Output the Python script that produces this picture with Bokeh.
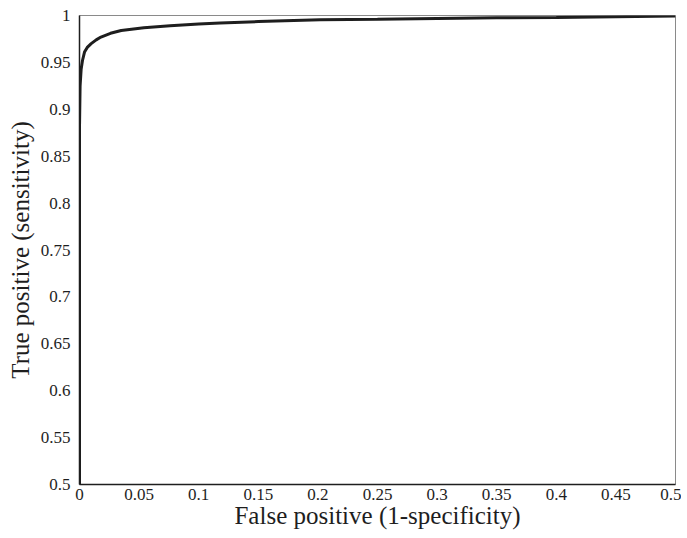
from bokeh.plotting import figure
from bokeh.models import FixedTicker, Range1d
from bokeh.embed import file_html
from bokeh.resources import INLINE

fpr = [0, 0, 0.0005, 0.0014, 0.0025, 0.0042, 0.0065, 0.0098, 0.014, 0.018, 0.026, 0.035,
       0.054, 0.076, 0.1, 0.118, 0.15, 0.202, 0.25, 0.3, 0.35, 0.4, 0.45, 0.5]
tpr = [0.5, 0.88, 0.925, 0.943, 0.952, 0.961, 0.966, 0.970, 0.974, 0.977, 0.981, 0.984,
       0.987, 0.989, 0.991, 0.992, 0.9935, 0.9954, 0.996, 0.9968, 0.9975, 0.998, 0.9988, 0.9995]

x_ticks = [0, 0.05, 0.1, 0.15, 0.2, 0.25, 0.3, 0.35, 0.4, 0.45, 0.5]
x_labels = ["0", "0.05", "0.1", "0.15", "0.2", "0.25", "0.3", "0.35", "0.4", "0.45", "0.5"]
y_ticks = [0.5, 0.55, 0.6, 0.65, 0.7, 0.75, 0.8, 0.85, 0.9, 0.95, 1.0]
y_labels = ["0.5", "0.55", "0.6", "0.65", "0.7", "0.75", "0.8", "0.85", "0.9", "0.95", "1"]

FONT = "Liberation Serif"

p = figure(frame_width=596, frame_height=469, output_backend="svg", toolbar_location=None,
           x_range=Range1d(0, 0.5), y_range=Range1d(0.5, 1.0),
           min_border_left=79, min_border_top=15, min_border_right=6, min_border_bottom=40)
p.background_fill_color = "white"
p.border_fill_color = "white"
p.outline_line_color = "#8a8a8a"
p.outline_line_width = 1
p.xgrid.visible = False
p.ygrid.visible = False

p.line(fpr, tpr, line_color="#1e1e1e", line_width=3)

p.xaxis.ticker = FixedTicker(ticks=x_ticks)
p.yaxis.ticker = FixedTicker(ticks=y_ticks)
p.xaxis.major_label_overrides = {t: l for t, l in zip(x_ticks, x_labels)}
p.yaxis.major_label_overrides = {t: l for t, l in zip(y_ticks, y_labels)}

for ax in (p.xaxis, p.yaxis):
    ax.major_tick_line_color = None
    ax.minor_tick_line_color = None
    ax.axis_line_color = "#1e1e1e"
    ax.axis_line_width = 1.5
    ax.major_label_text_font = FONT
    ax.major_label_text_font_size = "17px"
    ax.major_label_text_color = "#1e1e1e"
    ax.axis_label_text_font = FONT
    ax.axis_label_text_font_size = "25px"
    ax.axis_label_text_font_style = "normal"
    ax.axis_label_text_color = "#1e1e1e"

p.xaxis.axis_label = "False positive (1-specificity)"
p.yaxis.axis_label = "True positive (sensitivity)"
p.xaxis.major_label_standoff = -2
p.yaxis.major_label_standoff = 3
p.xaxis.axis_label_standoff = -1
p.yaxis.axis_label_standoff = 4

open("out.html", "w").write(file_html(p, INLINE))
